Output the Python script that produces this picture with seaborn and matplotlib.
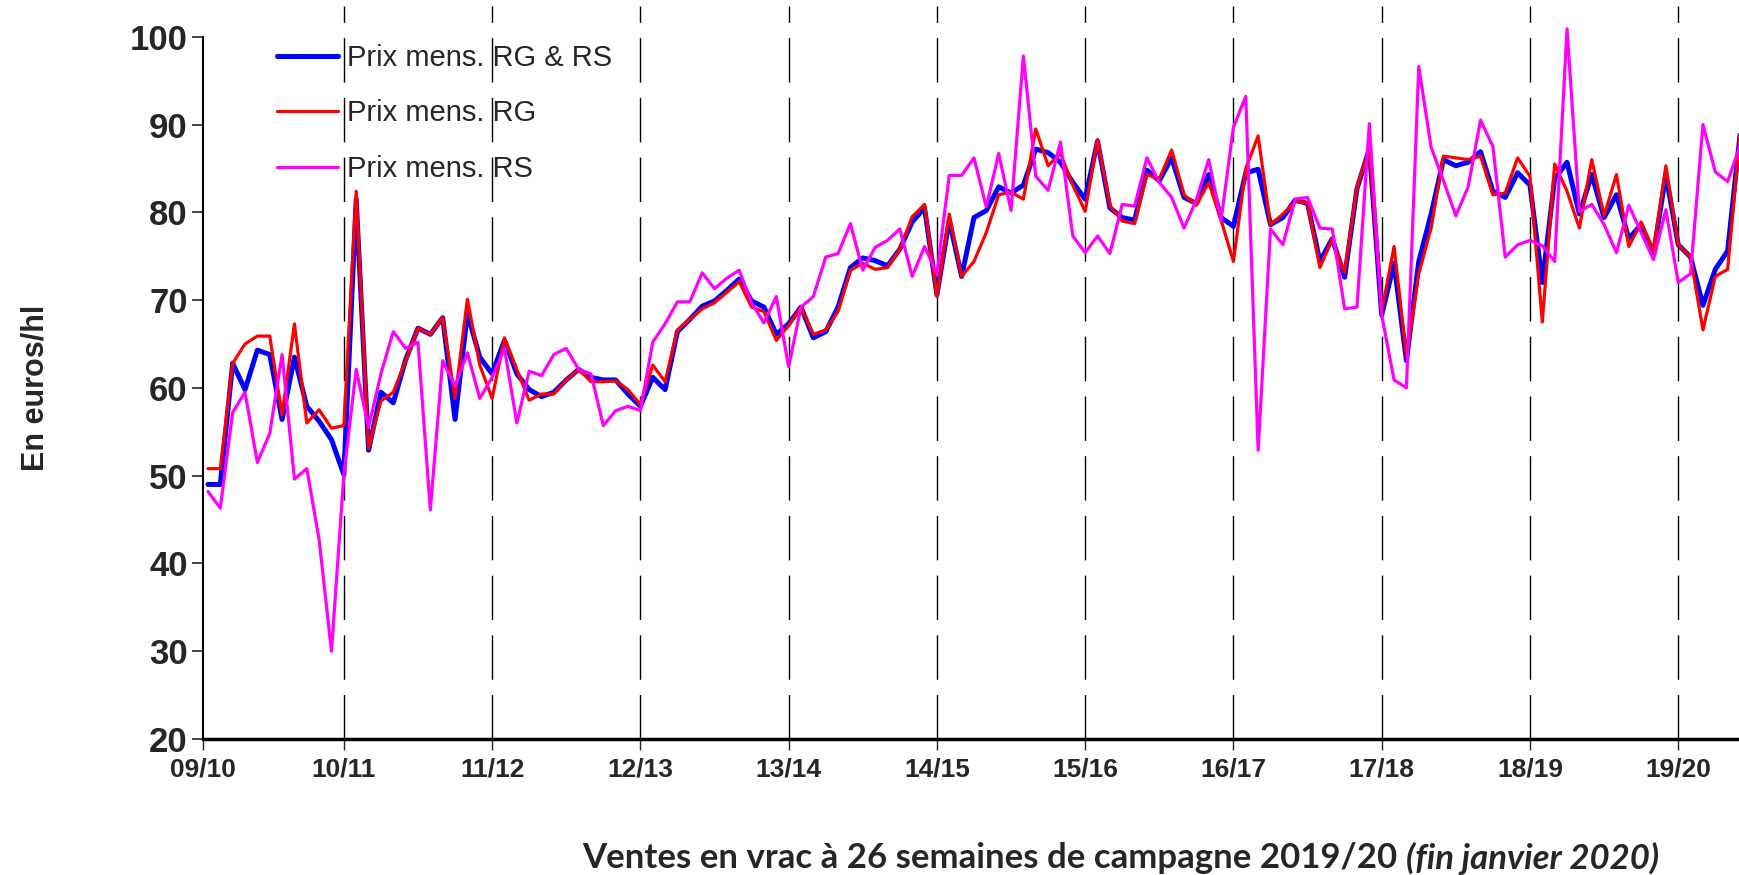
import numpy as np
import seaborn as sns
import matplotlib.pyplot as plt

# campagnes (une ligne verticale par debut de campagne)
campagnes = ['09/10', '10/11', '11/12', '12/13', '13/14', '14/15',
             '15/16', '16/17', '17/18', '18/19', '19/20']

# prix mensuels en euros/hl, sept. 2009 -> janv. 2020
prix_rg_rs = [49.0, 49.0, 62.8, 59.8, 64.3, 63.8, 56.4, 63.5, 57.9, 56.2, 54.1, 50.1,
              81.5, 52.9, 59.5, 58.3, 63.2, 66.8, 66.1, 68.0, 56.4, 68.5, 63.5, 61.6,
              65.4, 61.6, 59.8, 59.0, 59.5, 60.9, 62.1, 61.2, 60.9, 60.9, 59.3, 57.9,
              61.2, 59.8, 66.4, 67.8, 69.3, 69.9, 71.1, 72.4, 69.9, 69.2, 66.1, 67.3,
              69.2, 65.7, 66.4, 69.2, 73.7, 74.8, 74.5, 73.9, 75.8, 78.9, 80.5, 70.6,
              79.1, 72.7, 79.4, 80.2, 82.9, 82.2, 83.1, 87.2, 86.8, 85.7, 83.4, 81.5,
              88.1, 80.5, 79.4, 79.1, 84.8, 83.6, 86.2, 81.7, 81.0, 84.3, 79.4, 78.4,
              84.5, 84.9, 78.6, 79.4, 81.4, 81.0, 74.4, 77.0, 72.6, 82.7, 87.2, 68.3,
              74.2, 63.1, 74.4, 79.8, 86.0, 85.3, 85.7, 86.9, 82.4, 81.7, 84.5, 83.1,
              72.0, 83.8, 85.7, 79.8, 84.3, 79.4, 82.0, 77.0, 78.6, 75.3, 84.3, 76.3,
              74.9, 69.4, 73.5, 75.6, 88.8]
prix_rg = [50.8, 50.8, 62.8, 65.0, 65.9, 65.9, 56.9, 67.3, 56.0, 57.5, 55.4, 55.7,
           82.4, 53.1, 58.5, 59.5, 63.1, 66.8, 66.1, 68.0, 58.8, 70.1, 62.6, 58.8,
           65.7, 62.1, 58.6, 59.3, 59.3, 60.9, 62.1, 60.7, 60.7, 60.8, 59.8, 58.1,
           62.6, 60.7, 66.6, 67.8, 69.0, 69.7, 70.9, 72.1, 69.2, 68.7, 65.4, 67.1,
           69.2, 66.1, 66.6, 68.7, 73.4, 74.2, 73.5, 73.7, 75.8, 79.5, 80.9, 70.4,
           79.8, 72.7, 74.4, 77.7, 82.0, 82.3, 81.5, 89.5, 85.3, 86.7, 83.1, 80.1,
           88.3, 80.8, 79.0, 78.7, 84.3, 83.8, 87.1, 82.0, 80.8, 83.4, 79.1, 74.4,
           85.0, 88.7, 78.6, 79.8, 81.2, 81.1, 73.7, 77.0, 73.1, 82.9, 87.2, 68.7,
           76.1, 63.5, 73.0, 78.2, 86.4, 86.2, 86.0, 86.4, 82.0, 82.2, 86.2, 84.1,
           67.5, 85.5, 82.4, 78.2, 86.0, 79.6, 84.3, 76.1, 78.9, 75.6, 85.3, 76.3,
           74.9, 66.6, 72.7, 73.5, 88.8]
prix_rs = [48.2, 46.3, 57.2, 59.5, 51.5, 54.8, 63.8, 49.6, 50.8, 42.7, 30.0, 50.1,
           62.1, 55.5, 61.6, 66.4, 64.5, 65.2, 46.1, 63.1, 60.2, 64.0, 58.8, 61.2,
           64.5, 56.0, 61.9, 61.4, 63.8, 64.5, 62.1, 61.6, 55.7, 57.4, 57.9, 57.4,
           65.2, 67.3, 69.8, 69.8, 73.1, 71.3, 72.5, 73.4, 69.7, 67.4, 70.4, 62.4,
           69.2, 70.4, 74.9, 75.3, 78.7, 73.4, 76.0, 76.8, 78.1, 72.7, 76.1, 73.0,
           84.2, 84.2, 86.2, 80.6, 86.7, 80.2, 97.8, 84.1, 82.5, 88.0, 77.3, 75.4,
           77.3, 75.3, 80.9, 80.7, 86.2, 83.4, 81.7, 78.2, 81.4, 86.0, 79.1, 89.7,
           93.2, 52.9, 78.1, 76.3, 81.5, 81.7, 78.2, 78.1, 69.0, 69.2, 90.1, 68.3,
           60.9, 60.0, 96.6, 87.4, 83.6, 79.6, 82.9, 90.5, 87.5, 74.9, 76.3, 76.8,
           76.2, 74.4, 100.9, 80.1, 80.9, 78.6, 75.4, 80.8, 77.7, 74.6, 80.3, 72.0,
           73.0, 90.0, 84.6, 83.5, 87.6]

mois = np.arange(len(prix_rg_rs))

sns.set_style('white')
plt.rcParams['font.family'] = ['Liberation Sans', 'DejaVu Sans']

fig = plt.figure(figsize=(17.4, 8.75), dpi=100)
ax = fig.add_axes([203 / 1740, 136 / 875, 1537 / 1740, 733 / 875])

# debuts de campagne : lignes pointillees
debuts = [12 * k - 1 for k in range(1, len(campagnes))]
for d in debuts:
    ax.axvline(d, color='black', lw=1, linestyle=(0, (32, 11)), zorder=0)

sns.lineplot(x=mois, y=prix_rg_rs, color='#0000ff', lw=3.6, label='Prix mens. RG & RS', ax=ax)
sns.lineplot(x=mois, y=prix_rg, color='#ff0000', lw=2.3, label='Prix mens. RG', ax=ax)
sns.lineplot(x=mois, y=prix_rs, color='#ff00ff', lw=2.3, label='Prix mens. RS', ax=ax)

ax.set_xlim(-0.4, len(prix_rg_rs) - 1)
ax.set_ylim(20, 103.5)
ax.set_xticks([-0.4] + debuts)
ax.set_xticklabels(campagnes, fontsize=19, fontweight='bold')
ax.set_yticks(range(20, 101, 10))
ax.set_yticklabels([str(v) for v in range(20, 101, 10)], fontsize=25, fontweight='bold')
ax.tick_params(axis='y', direction='out', length=8, width=1.2, left=True, pad=3)
ax.tick_params(axis='x', direction='out', length=8, width=1, bottom=True, pad=5)

sns.despine(ax=ax, top=True, right=True)
ax.spines['left'].set_bounds(20, 100)
ax.spines['left'].set_linewidth(1.5)
ax.spines['bottom'].set_linewidth(2.5)
ax.spines['left'].set_color('black')
ax.spines['bottom'].set_color('black')

ax.set_xlabel('')
ax.set_ylabel('En euros/hl', fontsize=22, fontweight='bold')
ax.yaxis.set_label_coords(-0.099, 0.479)

ax.legend(loc='upper left', bbox_to_anchor=(277 / 1740, 1 - 44 / 875),
          bbox_transform=fig.transFigure, frameon=False, fontsize=21,
          handlelength=2.1, handletextpad=0.3, labelspacing=0.94,
          borderpad=0, borderaxespad=0)

fig.text(1397 / 1740, 1 - 858 / 875, 'Ventes en vrac à 26 semaines de campagne 2019/20',
         family=['Lato', 'DejaVu Sans'], fontweight='bold', fontsize=25,
         ha='right', va='center')
fig.text(1406 / 1740, 1 - 858 / 875, '(fin janvier 2020)',
         family=['Lato', 'DejaVu Sans'], fontweight='bold', style='italic', fontsize=25,
         ha='left', va='center')

fig.savefig('out.png', dpi=100)
